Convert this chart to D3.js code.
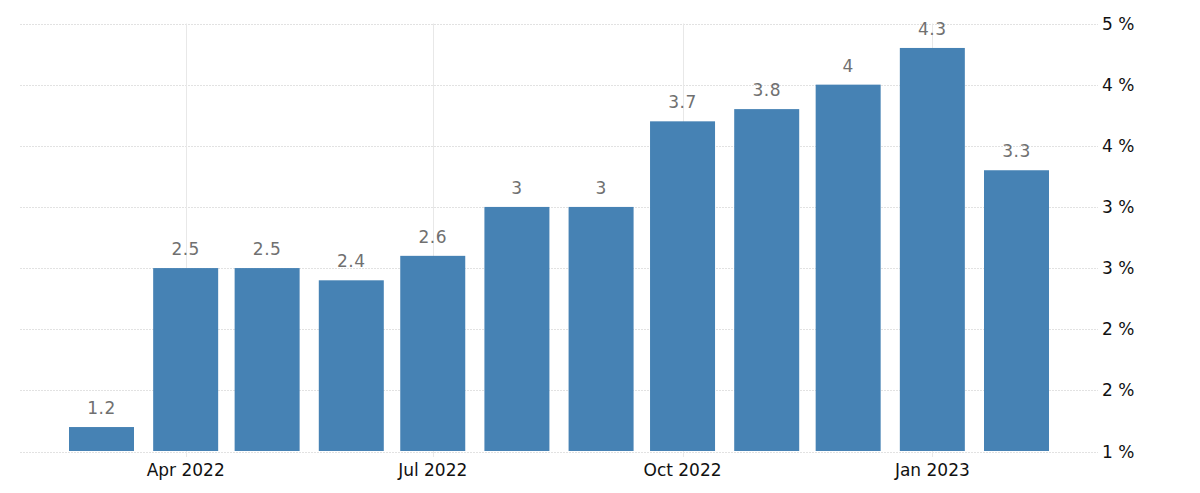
<!DOCTYPE html>
<html><head><meta charset="utf-8">
<script src="https://cdn.jsdelivr.net/npm/d3@7"></script>
<style>
html,body{margin:0;padding:0;background:#fff;}
svg{display:block;font-family:"DejaVu Sans",sans-serif;}
</style></head>
<body><svg id="c" width="1200" height="493"></svg>
<script>
const months = ["2022-03-01","2022-04-01","2022-05-01","2022-06-01","2022-07-01","2022-08-01","2022-09-01","2022-10-01","2022-11-01","2022-12-01","2023-01-01","2023-02-01"];
const values = [1.2,2.5,2.5,2.4,2.6,3,3,3.7,3.8,4,4.3,3.3];
const valueLabels = ["1.2","2.5","2.5","2.4","2.6","3","3","3.7","3.8","4","4.3","3.3"];
const xTickDates = ["2022-04-01","2022-07-01","2022-10-01","2023-01-01"];
const yTickValues = [1,1.5,2,2.5,3,3.5,4,4.5];
const yTickLabels = ["1 %","2 %","2 %","3 %","3 %","4 %","4 %","5 %"];

const parse = d3.utcParse("%Y-%m-%d");
const svg = d3.select("#c");
const x = d3.scaleUtc().domain([parse(months[0]), parse(months[months.length-1])]).range([101.5, 1016.5]);
const y = d3.scaleLinear().domain([1, 4.5]).range([451.5, 23.5]);
const left = 20, right = 1098, barW = 65;

// horizontal gridlines
svg.append("g").selectAll("line").data(yTickValues).join("line")
  .attr("x1", left).attr("x2", right)
  .attr("y1", d => Math.round(y(d)) + 0.5).attr("y2", d => Math.round(y(d)) + 0.5)
  .attr("stroke", "#e2e2e2").attr("stroke-dasharray", "2,1");

// vertical gridlines
svg.append("g").selectAll("line").data(xTickDates).join("line")
  .attr("x1", d => Math.round(x(parse(d))) + 0.5).attr("x2", d => Math.round(x(parse(d))) + 0.5)
  .attr("y1", y(4.5)).attr("y2", 457)
  .attr("stroke", "#e8e8e8");

// bars
svg.append("g").selectAll("rect").data(values).join("rect")
  .attr("x", (d,i) => x(parse(months[i])) - barW/2)
  .attr("width", barW)
  .attr("y", d => y(d))
  .attr("height", d => y(1) - y(d) - 0.5)
  .attr("fill", "#4682b4");

// value labels
svg.append("g").selectAll("text").data(values).join("text")
  .attr("x", (d,i) => x(parse(months[i])))
  .attr("y", d => y(d) - 13)
  .attr("text-anchor", "middle")
  .attr("font-size", 17).attr("letter-spacing", 0.5)
  .attr("fill", "#707070")
  .text((d,i) => valueLabels[i]);

// x axis labels
const fmt = d3.utcFormat("%b %Y");
svg.append("g").selectAll("text").data(xTickDates).join("text")
  .attr("x", d => x(parse(d)))
  .attr("y", 476)
  .attr("text-anchor", "middle")
  .attr("font-size", 17).attr("fill", "#111")
  .text(d => fmt(parse(d)));

// y axis labels
svg.append("g").selectAll("text").data(yTickValues).join("text")
  .attr("x", 1102)
  .attr("y", d => y(d))
  .attr("dy", "0.36em")
  .attr("font-size", 17).attr("fill", "#111")
  .text((d,i) => yTickLabels[i]);
</script></body></html>
